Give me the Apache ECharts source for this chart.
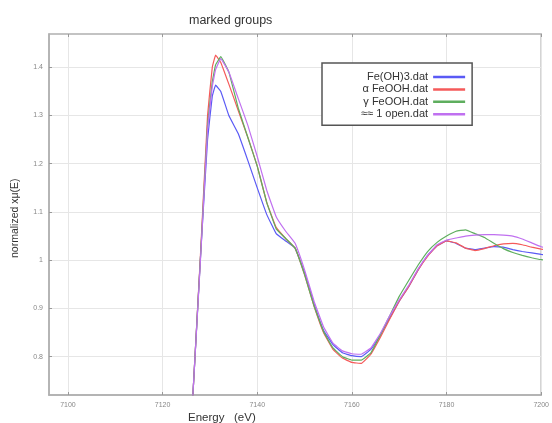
<!DOCTYPE html>
<html><head><meta charset="utf-8">
<script src="https://cdn.jsdelivr.net/npm/echarts@6/dist/echarts.min.js"></script>
<style>html,body{margin:0;padding:0;background:#fff}#c{width:552px;height:423px}</style>
</head><body><div id="c"></div>
<script>
const titleText = 'marked groups';
const xName = 'Energy   (eV)';
const yName = 'normalized xμ(E)';
const xTicks = [7100, 7120, 7140, 7160, 7180, 7200];
const yTicks = [0.8, 0.9, 1, 1.1, 1.2, 1.3, 1.4];
const seriesNames = ['Fe(OH)3.dat', 'α FeOOH.dat', 'γ FeOOH.dat', '≈≈ 1 open.dat'];
const energy = [7126.4, 7128, 7129.5, 7130.5, 7131.2, 7132.3, 7134, 7136, 7138, 7140, 7142, 7144, 7146, 7148, 7150, 7152, 7154, 7156, 7158, 7160, 7162, 7164, 7166, 7168, 7170, 7172, 7174, 7176, 7178, 7180, 7182, 7184, 7186, 7188, 7190, 7192, 7194, 7196, 7198, 7200, 7201.5];
const feOH3 = [0.72, 1.005, 1.25, 1.34, 1.363, 1.35, 1.30, 1.262, 1.207, 1.15, 1.095, 1.055, 1.04, 1.025, 0.975, 0.91, 0.855, 0.825, 0.808, 0.802, 0.80, 0.815, 0.845, 0.88, 0.915, 0.945, 0.98, 1.01, 1.03, 1.04, 1.035, 1.025, 1.022, 1.025, 1.028, 1.027, 1.022, 1.018, 1.015, 1.012, 1.01];
const alphaFeOOH = [0.72, 1.01, 1.30, 1.40, 1.425, 1.41, 1.365, 1.31, 1.255, 1.195, 1.12, 1.068, 1.045, 1.025, 0.97, 0.905, 0.85, 0.815, 0.797, 0.788, 0.786, 0.805, 0.84, 0.878, 0.915, 0.945, 0.98, 1.008, 1.03, 1.04, 1.036, 1.025, 1.02, 1.024, 1.03, 1.034, 1.035, 1.032, 1.027, 1.023, 1.021];
const gammaFeOOH = [0.72, 1.005, 1.28, 1.37, 1.405, 1.422, 1.39, 1.315, 1.255, 1.195, 1.12, 1.065, 1.045, 1.025, 0.97, 0.905, 0.852, 0.818, 0.80, 0.793, 0.793, 0.808, 0.845, 0.885, 0.925, 0.958, 0.99, 1.018, 1.037, 1.05, 1.06, 1.063, 1.055, 1.047, 1.035, 1.024, 1.016, 1.01, 1.005, 1.001, 1.0];
const open1 = [0.72, 1.0, 1.27, 1.36, 1.395, 1.418, 1.39, 1.335, 1.28, 1.215, 1.145, 1.09, 1.06, 1.035, 0.98, 0.915, 0.862, 0.828, 0.812, 0.806, 0.805, 0.818, 0.848, 0.885, 0.918, 0.948, 0.982, 1.01, 1.032, 1.042, 1.046, 1.05, 1.052, 1.053, 1.053, 1.052, 1.05, 1.044, 1.036, 1.028, 1.024];
const colors = ['#5a5af5', '#f55a5a', '#5eae5e', '#c070f0'];

const allSeries = [feOH3, alphaFeOOH, gammaFeOOH, open1];
const chart = echarts.init(document.getElementById('c'), null, {renderer: 'canvas'});
const lblFont = 'Liberation Sans, Arial, sans-serif';
chart.setOption({
  animation: false,
  backgroundColor: '#fff',
  graphic: [
    {type: 'text', left: 189, top: 14, style: {text: titleText, font: '12.5px Liberation Sans, Arial, sans-serif', fill: '#333'}},
    {type: 'text', left: 188, top: 412, style: {text: xName, font: '11.5px Liberation Sans, Arial, sans-serif', fill: '#333'}},
    {type: 'text', x: 10, y: 258, rotation: Math.PI / 2, style: {text: yName, font: '10.5px Liberation Sans, Arial, sans-serif', fill: '#333'}}
  ],
  grid: {left: 49, top: 34, right: 6, bottom: 28, show: true, borderColor: '#b0b0b0', borderWidth: 1.5, containLabel: false},
  legend: {
    orient: 'vertical', left: 322, top: 63, align: 'right',
    data: seriesNames,
    icon: 'rect', itemWidth: 32, itemHeight: 2.5, itemGap: 1.4,
    padding: [8.5, 7, 5.5, 39],
    backgroundColor: '#fff', borderColor: '#555', borderWidth: 1.5,
    textStyle: {fontSize: 11, fontFamily: lblFont, color: '#333', width: 70, align: 'right'}
  },
  xAxis: [{
    type: 'value', min: 7096, max: 7200,
    axisLine: {show: true, lineStyle: {color: '#b0b0b0', width: 1.5}},
    axisTick: {show: true, inside: true, length: 3, customValues: xTicks, lineStyle: {color: '#999'}},
    axisLabel: {customValues: xTicks, fontSize: 7, color: '#888', fontFamily: lblFont, margin: 7, formatter: v => String(v)},
    splitLine: {show: true, lineStyle: {color: '#e6e6e6', width: 1}}
  }, {
    type: 'value', position: 'top', min: 7096, max: 7200,
    axisLine: {show: false},
    axisTick: {show: true, inside: true, length: 3, customValues: xTicks, lineStyle: {color: '#999'}},
    axisLabel: {show: false},
    splitLine: {show: false}
  }],
  yAxis: {
    type: 'value', min: 0.7205, max: 1.469,
    axisLine: {show: true, lineStyle: {color: '#b0b0b0', width: 1.5}},
    axisTick: {show: true, inside: true, length: 3, customValues: yTicks, lineStyle: {color: '#999'}},
    axisLabel: {customValues: yTicks, fontSize: 7, color: '#888', fontFamily: lblFont, margin: 6, formatter: v => String(Math.round(v * 10) / 10)},
    splitLine: {show: true, lineStyle: {color: '#e6e6e6', width: 1}}
  },
  series: seriesNames.map((n, i) => ({
    name: n, type: 'line', xAxisIndex: 0,
    data: energy.map((e, k) => [e, allSeries[i][k]]),
    showSymbol: false, symbol: 'none', clip: false, smooth: 0.08,
    lineStyle: {color: colors[i], width: 1.2},
    itemStyle: {color: colors[i]}
  }))
});
</script></body></html>
